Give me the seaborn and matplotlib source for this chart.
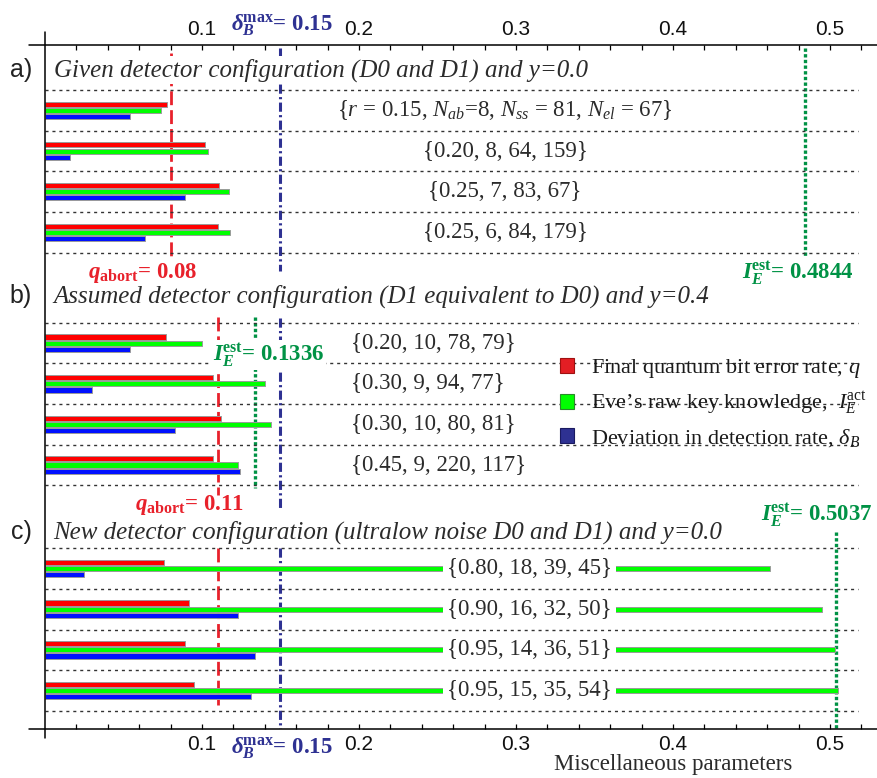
import numpy as np
import pandas as pd
import matplotlib
matplotlib.use('Agg')
import matplotlib.pyplot as plt
import seaborn as sns
from matplotlib.patches import Patch

sns.set_theme(style='white')
plt.rcParams['font.family'] = ['Liberation Serif', 'DejaVu Serif']
plt.rcParams['mathtext.fontset'] = 'custom'
plt.rcParams['mathtext.rm'] = 'Liberation Serif'
plt.rcParams['mathtext.it'] = 'Liberation Serif:italic'
plt.rcParams['mathtext.bf'] = 'Liberation Serif:bold'
plt.rcParams['mathtext.bfit'] = 'Liberation Serif:italic:bold'

# ---------------- data ----------------
section_letters = ['a)', 'b)', 'c)']
section_titles = [
    'Given detector configuration (D0 and D1) and y=0.0',
    'Assumed detector configuration (D1 equivalent to D0) and y=0.4',
    'New detector configuration (ultralow noise D0 and D1) and y=0.0',
]
config_labels = [
    [r'{$r$ = 0.15, $N_{ab}$=8, $N_{ss}$ = 81, $N_{el}$ = 67}',
     '{0.20, 8, 64, 159}', '{0.25, 7, 83, 67}', '{0.25, 6, 84, 179}'],
    ['{0.20, 10, 78, 79}', '{0.30, 9, 94, 77}', '{0.30, 10, 80, 81}', '{0.45, 9, 220, 117}'],
    ['{0.80, 18, 39, 45}', '{0.90, 16, 32, 50}', '{0.95, 14, 36, 51}', '{0.95, 15, 35, 54}'],
]
q_final = [0.078, 0.102, 0.111, 0.110,
           0.077, 0.107, 0.112, 0.107,
           0.076, 0.092, 0.089, 0.095]
ie_act = [0.074, 0.104, 0.117, 0.118,
          0.100, 0.140, 0.144, 0.123,
          0.462, 0.495, 0.503, 0.505]
delta_b = [0.054, 0.016, 0.089, 0.064,
           0.054, 0.030, 0.083, 0.124,
           0.025, 0.123, 0.134, 0.131]
q_abort = [0.08, 0.11, 0.11]
ie_est = [0.4844, 0.1336, 0.5037]
delta_max = 0.15
metric_keys = ['q', 'ie', 'db']
metric_names = ['Final quantum bit error rate, $q$',
                'Eve\u2019s raw key knowledge,  $I_E^{\\mathrm{act}}$',
                'Deviation in detection rate, $\\delta_B$']

# ---------------- layout ----------------
section_top = [1.12, 6.85, 12.40]
ymax = 16.85
title_y = [0.62, 6.19, 12.0]
q_span = [(0.20, 5.23), (6.71, 11.09), (12.40, 16.26)]
ie_span = [(0.07, 5.23), (6.71, 10.92), (12.0, 16.85)]
db_span = [(0.08, 5.58), (6.73, 11.41), (12.40, 16.85)]
label_pos = [('center', 0.293), ('left', 0.195), ('center', 0.3085)]

bar_colors = {'q': '#ff0000', 'ie': '#00ff00', 'db': '#0010ff'}
c_red = '#e8212b'
c_green = '#009245'
c_navy = '#2e3192'
txt_gray = '#2b2b2b'

rows = []
for s in range(3):
    for i in range(4):
        idx = s * 4 + i
        yc = section_top[s] + 0.5 + i
        rows.append((yc, q_final[idx], 'q'))
        rows.append((yc, ie_act[idx], 'ie'))
        rows.append((yc, delta_b[idx], 'db'))
df = pd.DataFrame(rows, columns=['y', 'value', 'metric'])

fig = plt.figure(figsize=(8.77, 7.78), dpi=100)
ax = fig.add_axes([45 / 877, 49 / 778, 832 / 877, 684.3 / 778])

sns.barplot(data=df, x='value', y='y', hue='metric', hue_order=metric_keys,
            palette=bar_colors, saturation=1, orient='h', native_scale=True,
            width=0.46, gap=0.18, edgecolor='#9a9a9a', linewidth=0.7, errorbar=None,
            legend=False, ax=ax, zorder=2)

ax.set_xlim(0, 0.53)
ax.set_ylim(ymax, 0)
ax.set_xlabel('')
ax.set_ylabel('')
ax.set_yticks([])
for sp in ax.spines.values():
    sp.set_visible(False)

# axes lines (Mathematica style)
ax.axhline(0, xmin=-0.019, xmax=1, color='black', lw=1.1, clip_on=False, zorder=5)
ax.axhline(ymax, xmin=-0.019, xmax=1, color='black', lw=1.1, clip_on=False, zorder=5)
ax.axvline(0, ymin=-0.013, ymax=1.019, color='black', lw=1.1, clip_on=False, zorder=5)

major = [0.1, 0.2, 0.3, 0.4, 0.5]
minor = [0.02, 0.04, 0.06, 0.08, 0.12, 0.14, 0.16, 0.18, 0.22, 0.24, 0.26, 0.28,
         0.32, 0.34, 0.36, 0.38, 0.42, 0.44, 0.46, 0.48, 0.52]
ax.set_xticks(major)
ax.set_xticklabels(['0.1', '0.2', '0.3', '0.4', '0.5'])
ax.set_xticks(minor, minor=True)
ax.tick_params(axis='x', which='both', direction='in', length=3.5, width=0.9,
               top=True, bottom=True, labeltop=True, labelbottom=True, color='black')
ax.tick_params(axis='x', which='major', labelsize=15, pad=4)
for t in ax.xaxis.get_major_ticks():
    for lab in (t.label1, t.label2):
        lab.set_fontfamily('Liberation Sans')
        lab.set_fontsize(15)
        lab.set_color('#111111')

# sections
for s in range(3):
    top = section_top[s]
    ax.hlines([top + k for k in range(5)], 0, 0.518, colors='#333333', lw=1.0,
              linestyles=[(0, (2.2, 2.8))], zorder=1)
    ax.vlines(q_abort[s], *q_span[s], colors=c_red, lw=2.0,
              linestyles=[(0, (5, 1.8))], zorder=0.5)
    ax.vlines(ie_est[s], *ie_span[s], colors=c_green, lw=2.4,
              linestyles=[(0, (1.0, 0.7))], zorder=0.5)
    ax.vlines(delta_max, *db_span[s], colors=c_navy, lw=2.2,
              linestyles=[(0, (3.0, 1.1, 0.7, 1.1))], zorder=0.5)
    ax.text(-0.0153, title_y[s], section_letters[s], fontsize=18, family='Liberation Sans',
            ha='center', va='center', color='#222222', clip_on=False)
    ax.text(0.0055, title_y[s], section_titles[s], fontsize=18, style='italic',
            ha='left', va='center', color=txt_gray, zorder=4,
            bbox=dict(facecolor='white', edgecolor='none', pad=1.5))
    ha, xl = label_pos[s]
    for i in range(4):
        ax.text(xl, top + 0.5 + i, config_labels[s][i], fontsize=16.5, ha=ha, va='center',
                color=txt_gray, zorder=4,
                bbox=dict(facecolor='white', edgecolor='none', pad=3))

# annotations
ann_kw = dict(fontsize=16.5, fontweight='bold', ha='center', va='center', zorder=6)
ax.text(0.0625, 5.62, r'$\mathbfit{q}_{\mathbf{abort}}$= 0.08', color=c_red, **ann_kw)
ax.text(0.0920, 11.34, r'$\mathbfit{q}_{\mathbf{abort}}$= 0.11', color=c_red, **ann_kw)
ax.text(0.4795, 5.62, r'$\mathbfit{I}_{\mathbfit{E}}^{\mathbf{est}}$= 0.4844', color=c_green, **ann_kw)
ax.text(0.1425, 7.64, r'$\mathbfit{I}_{\mathbfit{E}}^{\mathbf{est}}$= 0.1336', color=c_green,
        bbox=dict(facecolor='white', edgecolor='none', pad=1), **ann_kw)
ax.text(0.4915, 11.58, r'$\mathbfit{I}_{\mathbfit{E}}^{\mathbf{est}}$= 0.5037', color=c_green, **ann_kw)
ax.text(0.1510, -0.49, r'$\mathbfit{\delta}_{\mathbfit{B}}^{\mathbf{max}}$= 0.15', color=c_navy,
        clip_on=False, **ann_kw)
ax.text(0.1510, 17.32, r'$\mathbfit{\delta}_{\mathbfit{B}}^{\mathbf{max}}$= 0.15', color=c_navy,
        clip_on=False, **ann_kw)

ax.text(0.400, 17.86, 'Miscellaneous parameters', fontsize=16.5, ha='center', va='baseline',
        color=txt_gray, clip_on=False)

# legend
handles = [Patch(facecolor='#e31e24', edgecolor='#a01010', lw=0.8),
           Patch(facecolor='#00ff00', edgecolor='#2a8a2a', lw=0.8),
           Patch(facecolor=c_navy, edgecolor='#1a1a60', lw=0.8)]
leg = ax.legend(handles, metric_names, loc='upper left',
                bbox_to_anchor=(560 / 877, 1 - 357 / 778), bbox_transform=fig.transFigure,
                frameon=False, borderpad=0, borderaxespad=0, handlelength=0.65,
                handleheight=0.65, handletextpad=0.75, labelspacing=0.45, fontsize=16)
for t in leg.get_texts():
    t.set_color('#1a1a1a')

fig.savefig('out.png', dpi=100)
